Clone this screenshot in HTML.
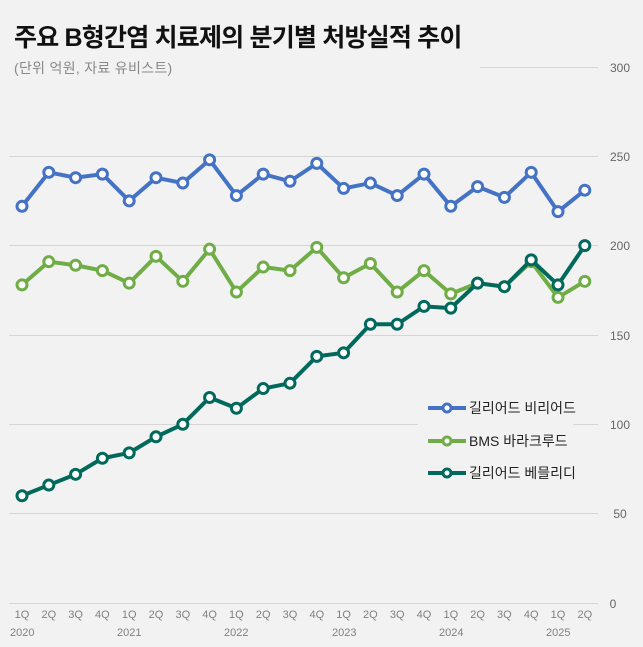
<!DOCTYPE html><html><head><meta charset="utf-8"><style>body{margin:0;background:#f2f2f2}svg{display:block}text{font-family:"Liberation Sans","Noto Sans CJK KR",sans-serif}</style></head><body>
<svg width="643" height="647" viewBox="0 0 643 647" xmlns="http://www.w3.org/2000/svg">
<rect width="643" height="647" fill="#f2f2f2"/>
<g stroke="#d6d6d6" stroke-width="1">
<line x1="9" x2="598" y1="67.5" y2="67.5"/><line x1="9" x2="598" y1="156.5" y2="156.5"/><line x1="9" x2="598" y1="245.5" y2="245.5"/><line x1="9" x2="598" y1="335.5" y2="335.5"/><line x1="9" x2="598" y1="424.5" y2="424.5"/><line x1="9" x2="598" y1="513.5" y2="513.5"/><line x1="9" x2="598" y1="603.5" y2="603.5"/>
</g>
<rect x="8" y="55" width="472" height="25" fill="#f2f2f2"/>
<rect x="418" y="395" width="155" height="95" fill="#f2f2f2"/>
<text x="14" y="46" font-size="25" font-weight="bold" fill="#111" letter-spacing="-0.8">주요 B형간염 치료제의 분기별 처방실적 추이</text>
<text x="14" y="73" font-size="14" fill="#888" letter-spacing="0.3">(단위 억원, 자료 유비스트)</text>
<g font-size="12" fill="#666" text-anchor="middle">
<text x="620" y="72">300</text><text x="620" y="161">250</text><text x="620" y="250">200</text><text x="620" y="340">150</text><text x="620" y="429">100</text><text x="620" y="518">50</text><text x="613" y="608">0</text>
</g>
<g id="x" font-size="11" fill="#808080" text-anchor="middle"></g>
<g font-size="11" fill="#808080">
<text x="10" y="636">2020</text><text x="117" y="636">2021</text><text x="224" y="636">2022</text><text x="332" y="636">2023</text><text x="439" y="636">2024</text><text x="546" y="636">2025</text>
</g>
<g id="s"></g>
<g font-size="14" fill="#222">
<line x1="428" x2="466" y1="408" y2="408" stroke="#4472c4" stroke-width="4"/><circle cx="447" cy="408" r="4" fill="#fff" stroke="#4472c4" stroke-width="3"/><text x="469" y="413">길리어드 비리어드</text>
<line x1="428" x2="466" y1="441" y2="441" stroke="#70ad47" stroke-width="4"/><circle cx="447" cy="441" r="4" fill="#fff" stroke="#70ad47" stroke-width="3"/><text x="469" y="446">BMS 바라크루드</text>
<line x1="428" x2="466" y1="473" y2="473" stroke="#00695c" stroke-width="4"/><circle cx="447" cy="473" r="4" fill="#fff" stroke="#00695c" stroke-width="3"/><text x="469" y="478">길리어드 베믈리디</text>
</g>
</svg>
<script>
const ns="http://www.w3.org/2000/svg";
const X=i=>22+i*26.8, Y=v=>603-v*1.787;
const xg=document.getElementById('x');
for(let i=0;i<22;i++){const t=document.createElementNS(ns,'text');t.setAttribute('x',X(i));t.setAttribute('y',618);t.textContent=(i%4+1)+'Q';xg.appendChild(t);}
const S=[["#4472c4",[222,241,238,240,225,238,235,248,228,240,236,246,232,235,228,240,222,233,227,241,219,231]],
["#70ad47",[178,191,189,186,179,194,180,198,174,188,186,199,182,190,174,186,173,179,177,191,171,180]],
["#00695c",[60,66,72,81,84,93,100,115,109,120,123,138,140,156,156,166,165,179,177,192,178,200]]];
const g=document.getElementById('s');
S.forEach(([c,d])=>{const p=document.createElementNS(ns,'polyline');p.setAttribute('points',d.map((v,i)=>X(i)+','+Y(v)).join(' '));p.setAttribute('fill','none');p.setAttribute('stroke',c);p.setAttribute('stroke-width','4');p.setAttribute('stroke-linejoin','round');g.appendChild(p);
d.forEach((v,i)=>{const e=document.createElementNS(ns,'circle');e.setAttribute('cx',X(i));e.setAttribute('cy',Y(v));e.setAttribute('r','5');e.setAttribute('fill','#fff');e.setAttribute('stroke',c);e.setAttribute('stroke-width','3');g.appendChild(e);});});
</script>
</body></html>
